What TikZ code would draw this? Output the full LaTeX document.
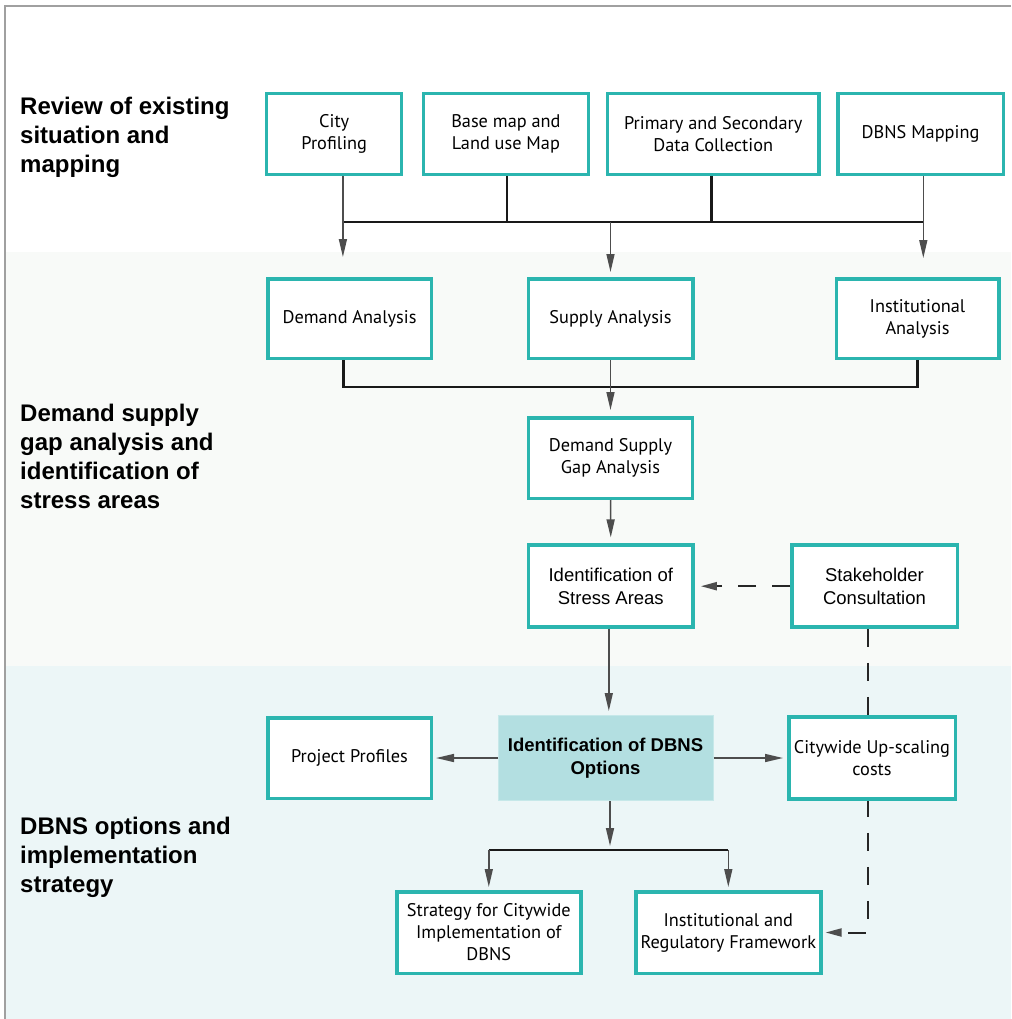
\documentclass[tikz,border=0pt]{standalone}
\usepackage{fontspec}
\setmainfont{Liberation Sans}
\newfontfamily\myriad{PT Sans}
\usetikzlibrary{arrows.meta,backgrounds}

\definecolor{framegrey}{HTML}{A0A0A0}
\definecolor{boxteal}{HTML}{2BB5AF}
\definecolor{bandgrey}{HTML}{F8FAF8}
\definecolor{bandblue}{HTML}{ECF6F7}
\definecolor{optfill}{HTML}{B3DFE1}
\definecolor{optline}{HTML}{C6E8E9}
\definecolor{arrgrey}{HTML}{4D4D4D}

\tikzset{
  box/.style={draw=boxteal, line width=3.5pt, fill=white, align=center, inner sep=2pt,
    minimum height=81pt, font=\myriad\fontsize{18.3}{22}\selectfont},
  arialbox/.style={box, font=\fontsize{18.5}{23}\selectfont},
  optbox/.style={draw=optline, line width=1pt, fill=optfill, align=center, inner sep=2pt,
    minimum width=215pt, minimum height=85pt, font=\bfseries\fontsize{18.5}{23}\selectfont},
  heading/.style={anchor=west, align=left, inner sep=0pt, font=\bfseries\fontsize{24}{29}\selectfont},
  arr/.style={draw=arrgrey, line width=1.5pt, -{Triangle[length=18pt,width=8pt]}},
  bus/.style={draw=black!90, line width=2.5pt},
  dashlink/.style={draw=black!85, line width=2pt, dash pattern=on 18pt off 16pt,
    -{Triangle[length=16pt,width=8pt,color=arrgrey]}}
}

\begin{document}
\begin{tikzpicture}[x=1pt, y=-1pt]
\useasboundingbox (0,0) rectangle (1011,1019);
% Bands
\begin{scope}[on background layer]
    \fill[white] (0,0) rectangle (1011,1019);
    \fill[bandgrey] (6,252) rectangle (1011,665.5);
    \fill[bandblue] (6,665.5) rectangle (1011,1019);
    \draw[framegrey, line width=2pt] (5,1019) -- (5,6) -- (1011,6);
\end{scope}
% Headings
    \node[heading] (head1) at (20,137) {Review of existing\\situation and\\mapping};
    \node[heading] (head2) at (20,456) {Demand supply\\gap analysis and\\identification of\\stress areas};
    \node[heading] (head3) at (20,857) {DBNS options and\\implementation\\strategy};
% Review of existing situation
    \node[box, minimum width=135pt] (city) at (334.2,134) {City\\Profiling};
    \node[box, minimum width=165pt] (basemap) at (505.9,134) {Base map and\\Land use Map};
    \node[box, minimum width=211.5pt] (primary) at (713.2,134) {Primary and Secondary\\Data Collection};
    \node[box, minimum width=165.5pt] (mapping) at (920.5,134) {DBNS Mapping};
% Demand supply gap analysis
    \node[box, minimum width=163.5pt, minimum height=79.5pt] (demand) at (349.5,318.5) {Demand Analysis};
    \node[box, minimum width=164.5pt, minimum height=79.5pt] (supply) at (610.5,318.5) {Supply Analysis};
    \node[box, minimum width=162.5pt, minimum height=79.5pt] (inst) at (917.5,318.5) {Institutional\\Analysis};
    \node[box, minimum width=164pt, minimum height=80.5pt] (gap) at (610.5,458) {Demand Supply\\Gap Analysis};
    \node[arialbox, minimum width=164.5pt, minimum height=82pt] (stress) at (610.8,586.2) {Identification of\\Stress Areas};
    \node[arialbox, minimum width=165.5pt, minimum height=82pt] (stake) at (874.5,586.2) {Stakeholder\\Consultation};
% DBNS options
    \node[optbox] (options) at (605.5,758) {Identification of DBNS\\Options};
    \node[box, minimum width=163.5pt, minimum height=80.5pt] (profiles) at (349.5,758) {Project Profiles};
    \node[box, minimum width=166.5pt, minimum height=82pt] (upscale) at (872,758) {Citywide Up-scaling\\costs};
    \node[box, minimum width=184pt, minimum height=81.5pt] (strategy) at (488.8,932.5) {Strategy for Citywide\\Implementation of\\DBNS};
    \node[box, minimum width=185pt, minimum height=81.5pt] (framework) at (728.3,932.5) {Institutional and\\Regulatory Framework};
% Links
    \coordinate (topbus) at (0,222);
    \coordinate (lowbus) at (0,387);
    \coordinate (optbus) at (0,850);
    \draw[bus] ([xshift=8.7pt]city.south |- topbus) -- ([xshift=2.8pt]mapping.south |- topbus);
    \draw[bus] ([xshift=1pt]basemap.south) -- ([xshift=1pt]basemap.south |- topbus);
    \draw[bus] ([xshift=-1.5pt]primary.south) -- ([xshift=-1.5pt]primary.south |- topbus);
    \draw[arr, shorten >=20pt] ([xshift=8.7pt]city.south) -- ([xshift=8.7pt]city.south |- demand.north);
    \draw[arr, shorten >=19pt] ([xshift=2.8pt]mapping.south) -- ([xshift=2.8pt]mapping.south |- inst.north);
    \draw[arr, shorten >=5pt] (supply.north |- topbus) -- (supply.north);
    \draw[bus] ([xshift=-6pt]demand.south) |- (lowbus -| inst.south) -- (inst.south);
    \draw[arr, shorten >=6pt] (supply.south) -- (gap.north);
    \draw[arr, shorten >=6pt] (gap.south) -- (stress.north);
    \draw[arr, shorten >=6pt, dashlink] (stake.west) -- (stress.east);
    \draw[arr, shorten >=4pt] ([xshift=-2pt]stress.south) -- ([xshift=-2pt]stress.south |- options.north);
    \draw[arr, shorten >=3pt] (options.west) -- (profiles.east);
    \draw[arr, shorten >=4pt] (options.east) -- (upscale.west);
    \draw[arr, shorten >=0pt] ([xshift=4.5pt]options.south) -- ([xshift=4.5pt]options.south |- 0,846);
    \draw[bus] (strategy.north |- optbus) -- (framework.north |- optbus);
    \draw[arr, shorten >=3pt] (strategy.north |- optbus) -- (strategy.north);
    \draw[arr, shorten >=3pt] (framework.north |- optbus) -- (framework.north);
\begin{scope}[on background layer]
    \draw[dashlink, shorten >=3pt] ([xshift=-6.5pt]stake.south) |- (framework.east);
\end{scope}
\end{tikzpicture}
\end{document}
